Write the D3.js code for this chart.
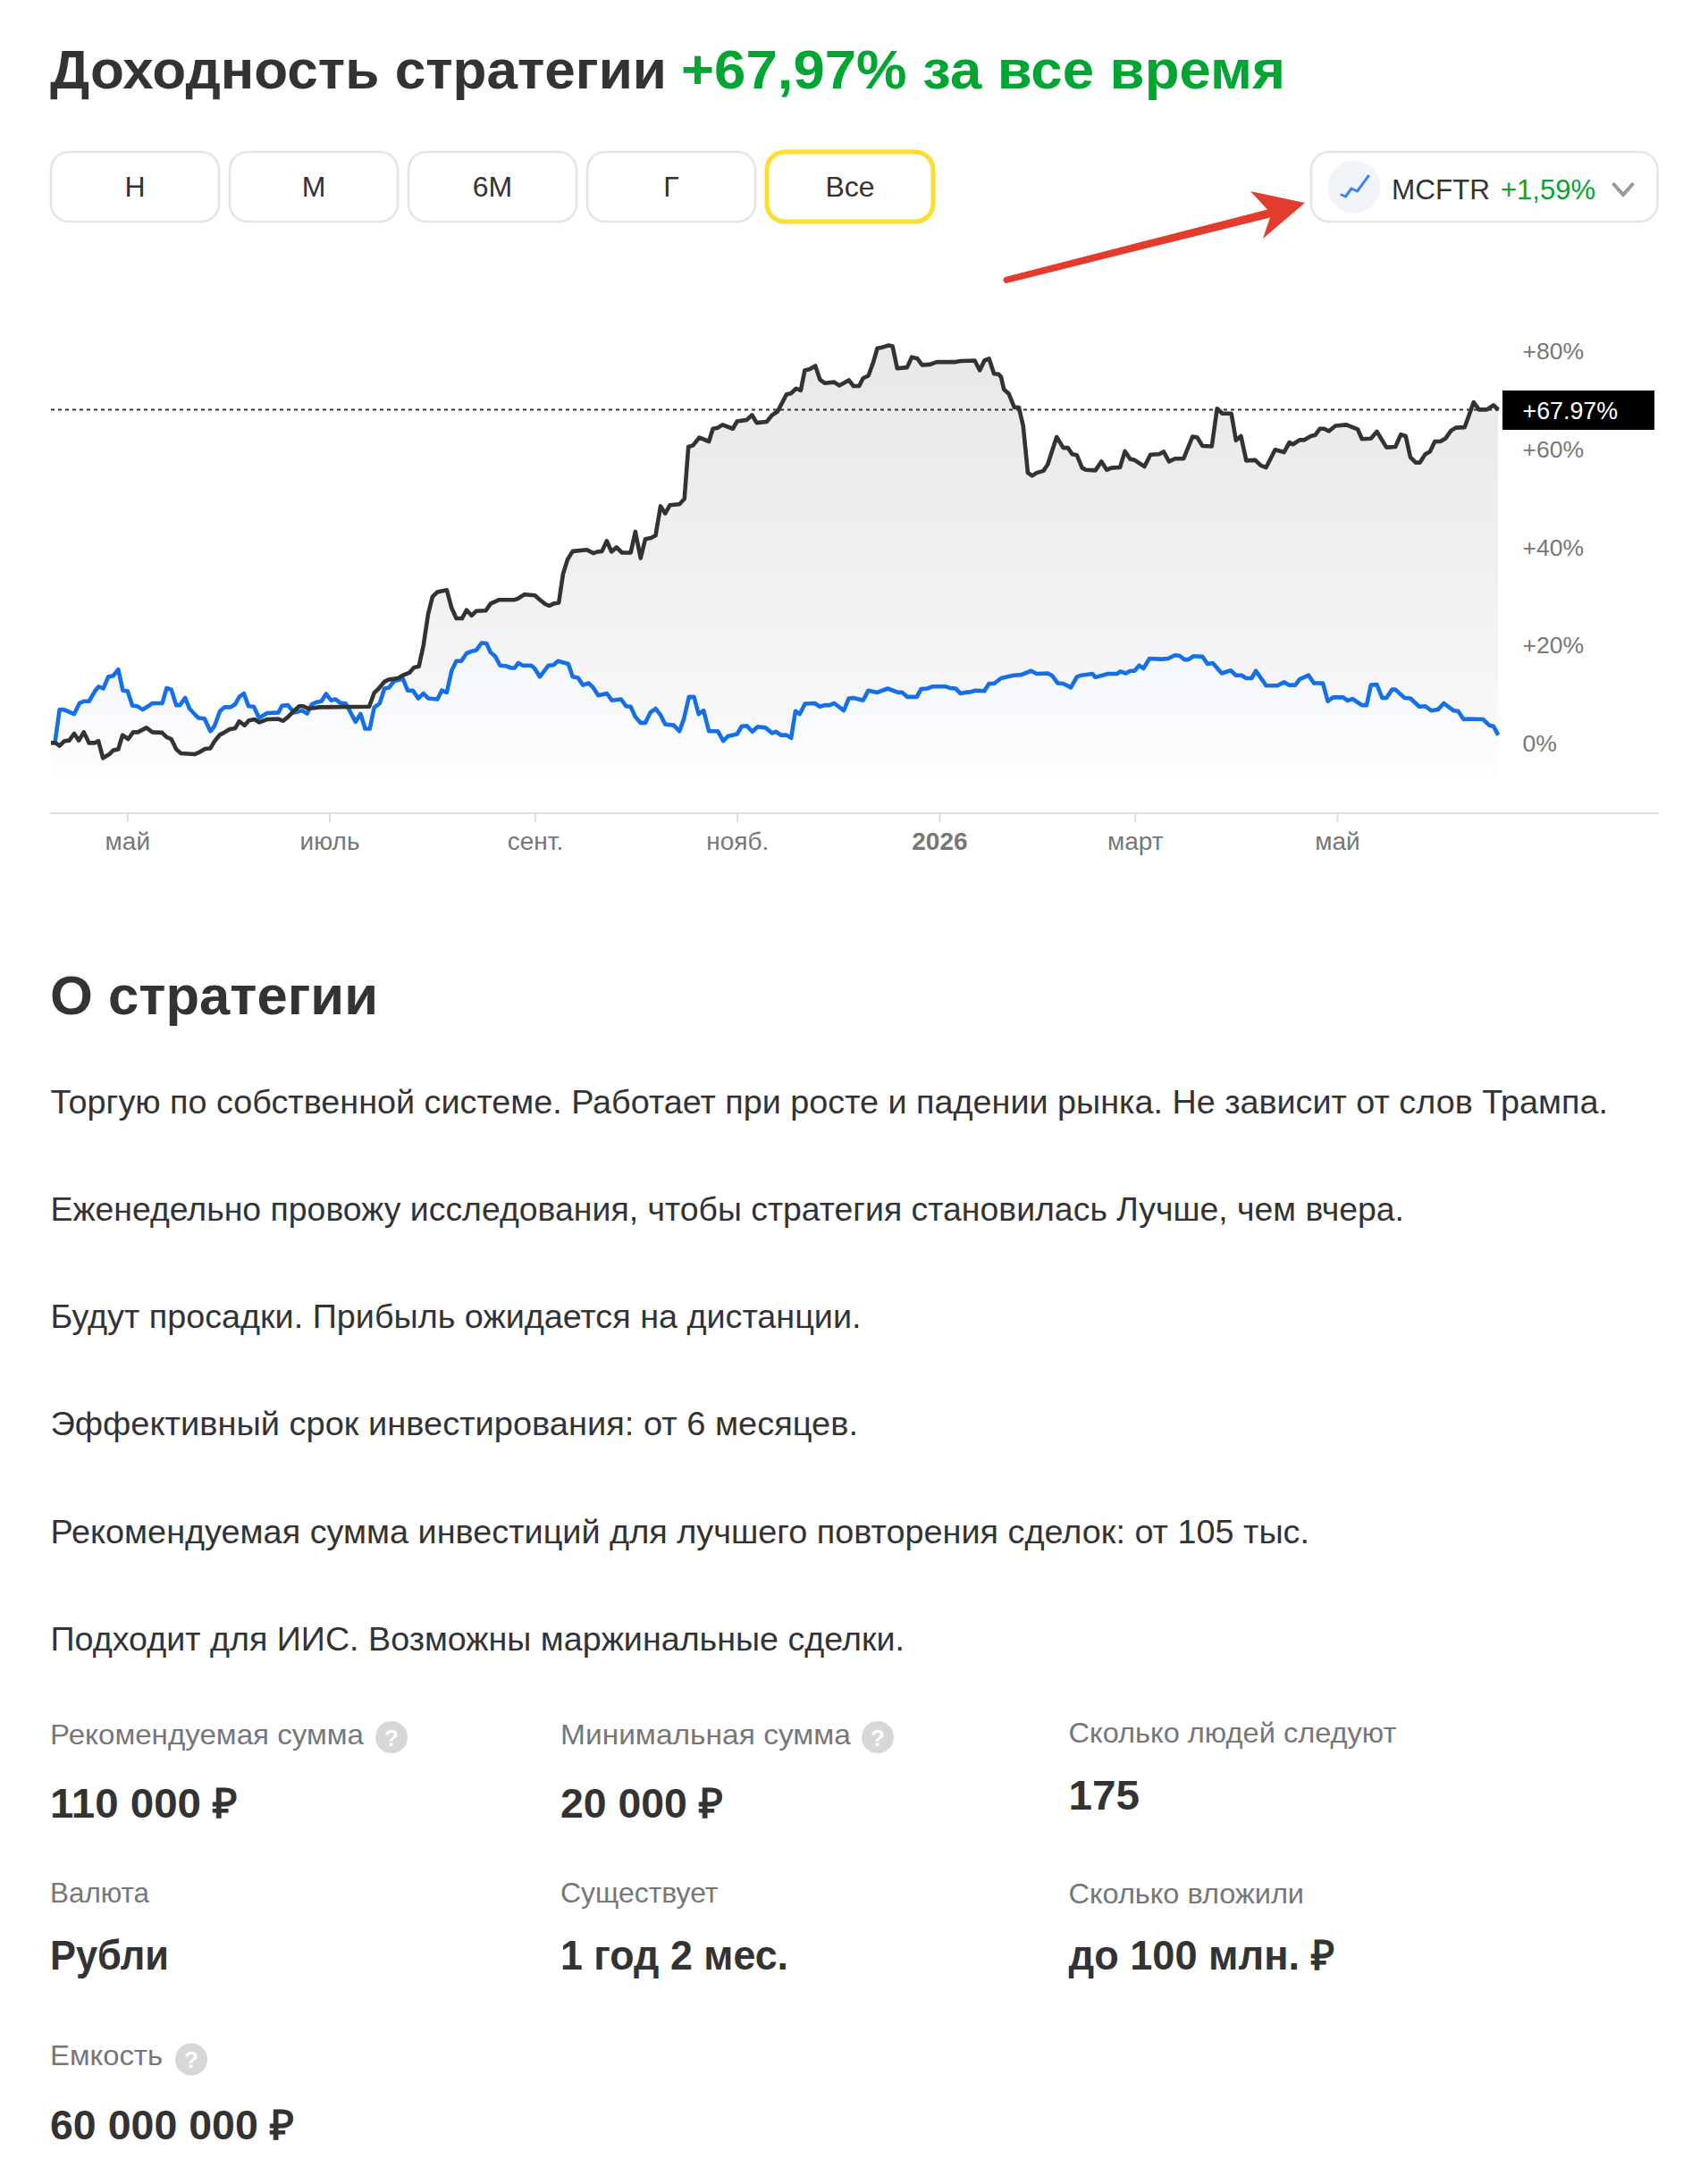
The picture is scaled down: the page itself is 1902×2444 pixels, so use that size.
<!DOCTYPE html>
<html lang="ru"><head><meta charset="utf-8">
<script src="https://cdn.jsdelivr.net/npm/d3@7/dist/d3.min.js"></script>
<style>html,body{margin:0;padding:0;background:#fff}svg{display:block}text{font-family:"Liberation Sans",Arial,sans-serif}</style>
</head><body><svg id="c" width="1902" height="2444"></svg>
<script>
// days since the first date, and percent return
const startDate = Date.UTC(2025, 3, 8);
const strategyDays = [0,1.4,2.6,4.1,5.5,7,8.4,9.9,11.5,13.2,14.3,15.7,17.6,18.8,20.3,21.6,23.3,24.8,26.2,28.8,30.6,33.5,34.9,36.3,37.8,39.2,43.3,45,46.5,48.1,49.3,51,52.2,53.9,55.6,56.8,58.4,59.7,61.4,62.8,65.2,68.6,70,71.5,73.4,74.9,76.1,77.7,81.1,96,97.5,98.9,100.6,101.8,104.7,106.2,108.1,109.5,111,112.4,113.8,115.1,116.6,119.4,120.9,122.3,124,125.4,126.9,128.3,131.2,132.6,135.2,139.9,
141,142.9,146,147.5,149.2,150.3,151.6,153.2,154.5,155.9,157.4,161.7,163.6,164.9,166.2,167.7,169.1,170.6,172.3,174.9,176.3,177.9,179.3,181,182.4,183.9,185.3,186.7,189.6,191.1,192.3,193.7,195.6,198.5,199.7,201.2,202.6,205.7,207,209.9,211.5,212.9,215.9,217.6,219.2,221.9,223.3,224.8,226.2,227.4,228.8,230.6,232,233.4,236.3,237.8,240.7,242.1,243.8,245,246.6,248.1,249.3,250.8,252.7,253.9,255.3,258.3,259.7,261.4,262.8,265.2,267.2,272.9,274.4,278.7,280.2,281.6,283,284.5,285.9,
286.6,287.5,289,290.6,292,293.3,294.7,296,297.4,299.4,300.7,303.4,305.4,306.8,308.1,309.5,311.1,312.2,315.1,316.9,318.5,319.8,322.5,324,325.6,326.9,329.9,331.7,334.3,335.7,337.3,339.1,341.7,344.4,345.8,347.4,350.2,351.8,353.4,356.1,357.5,359,360.6,363.3,365,366.6,369.3,372,373.6,374.7,376.7,378.1,380.1,381.4,382.8,384.1,385.5,387.5,390.8,394.2,395.5,398.2,400,402.9,405.6,407.2,408.7,410.1,411.7,413,414.6,416,417.5,419.1,420.7,422.4,423.8,426.5,429.2,430.8,433.2,435.2,436.6];
const strategyValues = [0,0,-.6,.4,.5,1.9,.5,2.2,0,0,.4,-3.1,-2.3,-1.5,-1.3,1.6,.8,2.2,2.2,3.1,2.2,2.1,1.2,.8,-1.3,-2.1,-2.3,-1.8,-1.2,-1.1,.3,1.7,2.1,2.8,3,4.4,3.6,4.6,4.8,4.2,4.8,4.9,4.5,5.3,6.6,7.5,7.5,7,7.3,7.4,10.2,11.1,12.5,12.9,13.2,13.8,14.3,15.4,15.6,20,26.3,29.8,30.8,31.2,27.5,25.4,25.4,27.1,26,26.9,27,28.4,29.2,29.2,
29.5,30.3,30.1,29.2,28.3,28,28.4,28.6,34.5,37.5,39.1,39.4,38.7,39,39.1,41.2,39,39.9,38.8,38.8,43.1,37.7,41.6,41.8,42.3,48.3,46.8,48.5,48.7,49.8,60.4,60.7,62.3,61.5,64.1,64.3,64.9,64.1,65.6,65.9,66.9,65.3,65.5,66.9,67.6,71.1,71.3,72.3,71.9,76,76.2,76.9,74.1,73.4,73.6,72.9,74,72.8,72.8,74.4,74.9,77.7,80.5,80.7,81.1,80.9,76.4,76.6,78.7,78.4,77.1,77.2,77.7,77.7,77.9,78,76,78,78.4,75.3,75.2,
74.7,72.1,71.2,68.5,68.4,64.7,55.1,54.5,55.1,55.5,56.8,62.4,60.2,60.2,58.9,58.7,56.1,55.7,55.6,57.4,55.7,56.1,56.2,59.5,57.9,57.7,56.4,58.8,58.9,59.4,57.4,58,58,62.5,62.3,60.6,60.5,68.2,67.2,67.2,61.7,62.6,57.6,57.7,56.6,56.2,59.8,59.3,61.3,60.9,61.8,61.8,62.6,62.8,64.1,64.1,63.6,64.7,64.9,64,62,62.1,63.5,60.3,60.4,62.9,62.6,58.3,57.2,57.2,58.9,59.4,61.5,61.5,62.1,63.7,64.3,64.4,69.5,68,68,68.9,67.97];
const indexDays = [1.2,2.6,3.9,7,8.6,9.9,11.5,13.2,14.4,15.8,17.3,18.8,20.3,21.7,23.1,24.6,26,27.7,29.1,30.6,33.6,34.9,36.3,37.8,38.9,40.5,41.8,43.3,44.5,46.3,48.1,49.3,51,52.4,54.2,55.6,56.8,58.2,59.6,61.2,62.8,65.2,68.6,69.7,71.5,73.4,75.8,77.3,78.7,80.1,81.6,83,84.5,85.9,87.2,89,91.9,93.4,94.8,96.2,97.5,99.2,100.6,102,103.5,106.2,107.6,109.2,110.8,112.4,113.8,116.6,117.9,119.4,120.9,122.3,123.8,125.4,126.9,128.3,129.9,131.4,132.6,134.1,135.5,137.2,138.9,139.9,
141,142.4,144.9,145.8,147.5,150.1,151.6,153,156.1,157.4,159,160.5,162.2,163.6,165.1,167.7,169.2,172,173.5,174.9,176.3,177.9,179.3,180.8,182.4,183.9,185.3,187.9,189.6,190.9,192.5,194,195.4,196.9,198.5,201.2,202.8,204.3,207,208.4,209.9,211.6,213.2,215.6,217.6,218.8,220.2,221.9,223.3,224.6,225.9,227.5,230.4,232,233.4,234.9,236.3,239.2,240.7,242.1,245,246.6,249.3,252.4,255.6,256.8,258.3,261.2,262.5,264.3,265.9,270,271.2,272.9,274.4,275.8,277.3,278.9,281.6,283,284.5,
286.6,288.6,290.4,292.7,295.7,297.4,300.7,302.1,303.7,305.4,307.7,309.5,310.8,314.2,315.1,318.9,321.6,322.6,324.3,325.6,326.9,328.3,329.6,331.4,335,337,339.1,340.4,342,343.1,344.7,347.4,348.9,350.5,353.2,355.9,357.5,359.2,360.6,362.2,363.5,366.6,370,372,373.6,375.4,376.7,379.4,381,383.7,385.2,386.8,389.8,391.2,392.6,395.5,396.9,398.2,400,401.6,402.9,404.6,405.6,408.3,410.1,412.8,414.6,416.4,418.4,420.2,423.1,424.5,426.2,427.8,432.1,433.9,435.2,436.6];
const indexValues = [0,6.8,6.8,5.9,8.1,8.5,8.5,10.5,11.5,11.1,13.5,13.7,15,10.7,10.6,7.6,7.5,6.8,7.4,8.1,8.1,11.2,10.9,7.7,7.7,9.2,7,5.9,5.1,5,2.4,3.4,6.5,7.3,7.3,7.9,9.4,10.1,7.5,7.4,5.1,6.1,6.2,7.6,7.7,6.2,6.6,6,7.9,8.3,8.5,10,8.7,8.9,8.2,8,4.3,5.9,2.9,2.9,7.2,8.1,11.1,11.3,12.6,13.1,10.7,10.7,9.1,10.1,9.1,8.9,10.7,10.3,14.8,16.7,16.7,18.3,18.7,18.9,20.4,20.3,18.5,17.6,15.8,15.7,15.3,15.3,
16.3,15.8,15.8,15.3,13.5,15.8,15.9,16.7,16.1,13.5,13.3,11.8,12.2,11.3,9.7,10.1,8.7,8.9,7.5,7.4,5.3,4.1,4.1,6.2,7,5.7,3.8,3.6,2.4,4.8,9.4,9.4,5.9,6.6,2.4,2.4,.4,1.4,1.8,3.4,3.5,2.3,3.3,3.1,2,2.3,1.6,1.6,1,6.5,5.9,8,8.1,7.4,7.7,7.7,8.1,6.6,9.1,9.2,8.7,10.7,10.3,11.1,10.3,10.3,9.4,9.4,11,11.1,11.5,11.5,11.2,11.1,10.1,10.3,10.4,10.7,10.6,12.1,12.1,
13.2,13.5,13.8,13.9,14.7,14.1,14.2,13.7,12.2,12.1,11.3,13.5,13.8,14.1,13.4,14.1,14.1,14.6,14.2,14.7,14.7,15.8,15.2,17.2,17.1,17.2,17.9,17.8,17,17,17.7,17.6,16.1,16.3,14.2,14.8,13.8,13.8,13.2,13.2,14.7,11.7,11.7,12.4,11.8,11.8,13,13.8,12.2,12.2,8.5,9.3,9.3,8.6,9,7.7,7.7,11.8,11.9,9.2,9.2,10.9,10.9,9.2,9.1,7.4,7.5,6.6,6.8,8.1,6.6,6.5,4.8,4.9,4.8,3.6,3.4,1.59];

const yTicks = [0,20,40,60,80];
const lastValue = 67.97;
const xTickDates = [[2025,4,1],[2025,6,1],[2025,8,1],[2025,10,1],[2026,0,1],[2026,2,1],[2026,4,1]].map(d => new Date(Date.UTC(d[0],d[1],d[2])));
const xTickLabels = ["май","июль","сент.","нояб.","2026","март","май"];
const periods = ["Н","М","6М","Г","Все"];
const paragraphs = [
 "Торгую по собственной системе. Работает при росте и падении рынка. Не зависит от слов Трампа.",
 "Еженедельно провожу исследования, чтобы стратегия становилась Лучше, чем вчера.",
 "Будут просадки. Прибыль ожидается на дистанции.",
 "Эффективный срок инвестирования: от 6 месяцев.",
 "Рекомендуемая сумма инвестиций для лучшего повторения сделок: от 105 тыс.",
 "Подходит для ИИС. Возможны маржинальные сделки."];
const statLabels = ["Рекомендуемая сумма","Минимальная сумма","Сколько людей следуют","Валюта","Существует","Сколько вложили","Емкость"];
const statValues = ["110 000 ₽","20 000 ₽","175","Рубли","1 год 2 мес.","до 100 млн. ₽","60 000 000 ₽"];
const statHelp = [true,true,false,false,false,false,true];

// layout (separate from the data)
const paragraphEnds = [1799,1571,963.5,960,1465,1012];
const statLayout = [
 {x:56, ly:1952, vy:2034, lend:407, vend:266, hx:438, hy:1944},
 {x:627,ly:1952, vy:2034, lend:952, vend:809, hx:982, hy:1944},
 {x:1195.5,ly:1950,vy:2024.5,lend:1562.5,vend:1275},
 {x:56, ly:2129, vy:2204, lend:167, vend:189},
 {x:627,ly:2129, vy:2204, lend:803.5,vend:882},
 {x:1195.5,ly:2130,vy:2204,lend:1459,vend:1493},
 {x:56, ly:2311, vy:2394, lend:182, vend:329, hx:214, hy:2304.5}];
const buttonX = [[57,245],[257,445],[457,645],[657,845],[858,1044]];

const INK="#333333", GREY="#777777", GREEN="#00a532";
const svg = d3.select("#c");
const defs = svg.append("defs");

function fit(x,y,str,size,weight,fill,end){
  const t = svg.append("text").attr("x",x).attr("y",y).attr("font-size",size).attr("font-weight",weight).attr("fill",fill).text(str);
  if(end!==undefined) t.attr("textLength",end-x).attr("lengthAdjust","spacingAndGlyphs");
  return t;
}
// heading
fit(56,99,"Доходность стратегии",62,700,INK,746);
fit(762,99,"+67,97% за все время",62,700,GREEN,1438);

// period buttons
periods.forEach((p,i)=>{
  const [a,b]=buttonX[i], on=i===periods.length-1;
  svg.append("rect").attr("x",a).attr("y",170).attr("width",b-a).attr("height",78).attr("rx",20)
    .attr("fill","#fff").attr("stroke",on?"#ffdd2d":"#e3e4e6").attr("stroke-width",on?5:2.5);
  svg.append("text").attr("x",(a+b)/2).attr("y",220).attr("text-anchor","middle").attr("font-size",32).attr("fill",INK).text(p);
});
// benchmark selector
svg.append("rect").attr("x",1467).attr("y",170).attr("width",387.5).attr("height",78).attr("rx",20).attr("fill","#fff").attr("stroke","#e3e4e6").attr("stroke-width",2.5);
svg.append("circle").attr("cx",1515).attr("cy",209).attr("r",29.5).attr("fill","#f1f4f9");
svg.append("path").attr("d","M1501 218L1505.5 220L1512 211L1518.5 214L1531 197").attr("fill","none").attr("stroke","#3f82f0").attr("stroke-width",3).attr("stroke-linecap","round").attr("stroke-linejoin","round");
fit(1557,223,"MCFTR",32,400,INK,1667);
fit(1679,223,"+1,59%",32,400,GREEN,1785);
svg.append("path").attr("d","M1804.5 205L1816 218L1827.5 205").attr("fill","none").attr("stroke","#9a9a9a").attr("stroke-width",4);
// annotation arrow
svg.append("path").attr("d","M1124.5 310L1418 234.5L1399 214L1460 227L1413 267L1421 243.5L1128 316.5A3.5 3.5 0 0 1 1124.5 310Z").attr("fill","#e33b2e");

// chart
const day = d => new Date(startDate + d*864e5);
const x = d3.scaleUtc().domain([day(0),day(436.6)]).range([57,1676.2]);
const y = d3.scaleLinear().domain([0,80]).range([831.4,392.5]);
const floor = -7.2;
const strategy = strategyDays.map((d,i)=>({date:day(d),v:strategyValues[i]}));
const bench = indexDays.map((d,i)=>({date:day(d),v:indexValues[i]}));
const benchFill = [{date:day(0),v:0},...bench];

function grad(id,stops){
  const g=defs.append("linearGradient").attr("id",id).attr("gradientUnits","userSpaceOnUse").attr("x1",0).attr("x2",0).attr("y1",y(81)).attr("y2",y(floor));
  stops.forEach(s=>g.append("stop").attr("offset",s[0]).attr("stop-color",s[1]));
}
grad("gk",[[0,"#e8e8e9"],[.4,"#eeeeef"],[.7,"#f4f4f6"],[1,"#fbfbfc"]]);
grad("gb",[[0,"#e6effc"],[.65,"#f2f5fb"],[.85,"#f8fafd"],[1,"#fdfdfe"]]);
const area = d3.area().x(d=>x(d.date)).y0(y(floor)).y1(d=>y(d.v));
const line = d3.line().x(d=>x(d.date)).y(d=>y(d.v));
svg.append("path").datum(strategy).attr("d",area).attr("fill","url(#gk)");
svg.append("path").datum(benchFill).attr("d",area).attr("fill","url(#gb)");

svg.append("line").attr("x1",57).attr("x2",1680).attr("y1",y(lastValue)).attr("y2",y(lastValue))
  .attr("stroke",INK).attr("stroke-width",2).attr("stroke-dasharray","4 4");

svg.append("path").datum(bench).attr("d",line).attr("fill","none").attr("stroke","#1570e8").attr("stroke-width",4.6).attr("stroke-linejoin","round");
svg.append("path").datum(strategy).attr("d",line).attr("fill","none").attr("stroke",INK).attr("stroke-width",4.6).attr("stroke-linejoin","round");

// y axis
const yAxis = d3.axisRight(y).tickValues(yTicks).tickSize(0).tickPadding(0).tickFormat(v=>v===0?"0%":"+"+v+"%");
const gy = svg.append("g").attr("transform","translate(1703.5,0)").call(yAxis);
gy.select(".domain").remove();
gy.selectAll("text").attr("font-size",26.5).attr("fill",GREY).attr("font-family",'"Liberation Sans"').attr("dy","0.35em");

// value tag
const tagY = y(lastValue);
svg.append("rect").attr("x",1681).attr("y",437).attr("width",170).attr("height",44).attr("fill","#000");
svg.append("text").attr("x",1703.5).attr("y",tagY+10.5).attr("font-size",26.8).attr("fill","#fff").text("+"+lastValue.toFixed(2)+"%");

// x axis
const xAxis = d3.axisBottom(x).tickValues(xTickDates).tickSize(10).tickPadding(0).tickFormat((d,i)=>xTickLabels[i]);
const gx = svg.append("g").attr("transform","translate(0,910)").call(xAxis);
gx.select(".domain").remove();
svg.append("line").attr("x1",56).attr("x2",1856).attr("y1",910).attr("y2",910).attr("stroke","#dedede").attr("stroke-width",2);
gx.selectAll("line").attr("stroke","#dedede").attr("stroke-width",2);
gx.selectAll("text").attr("font-size",28).attr("fill",GREY).attr("font-family",'"Liberation Sans"').attr("y",32).attr("dy","0.33em")
  .attr("font-weight",(d,i)=>xTickLabels[i]==="2026"?700:400);

// description
fit(56,1135,"О стратегии",62,700,INK,423);
paragraphs.forEach((p,i)=>fit(56.5,1245.7+i*120.2,p,36,400,INK,paragraphEnds[i]));

// stats
statLabels.forEach((l,i)=>{
  const s=statLayout[i];
  fit(s.x,s.ly,l,32,400,GREY,s.lend);
  fit(s.x,s.vy,statValues[i],46,700,INK,s.vend);
  if(statHelp[i]){
    svg.append("circle").attr("cx",s.hx).attr("cy",s.hy).attr("r",18).attr("fill","#d6d7d9");
    svg.append("text").attr("x",s.hx).attr("y",s.hy+9.5).attr("text-anchor","middle").attr("font-size",26).attr("font-weight",700).attr("fill","#fff").text("?");
  }
});
</script></body></html>
